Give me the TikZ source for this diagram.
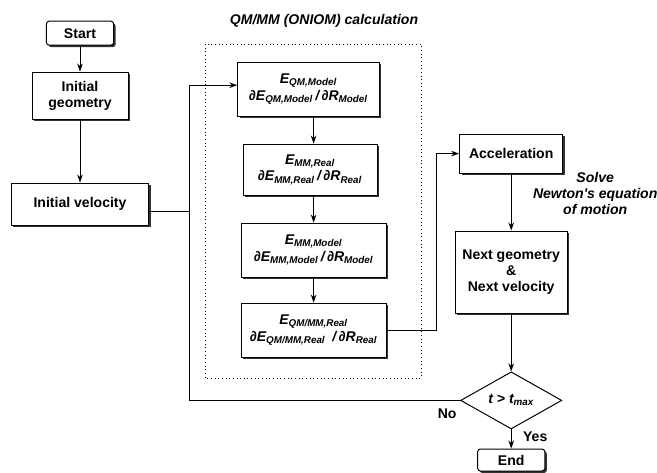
\documentclass[tikz,border=0pt]{standalone}
\usepackage{fontspec}
\setmainfont{Liberation Sans}
\usepackage{tikz}
\usetikzlibrary{arrows.meta,shapes.geometric,shadows}

\begin{document}
\begin{tikzpicture}[line width=0.6pt,>={Stealth[length=2mm,width=1.4mm]},
every node/.style={font=\bfseries\fontsize{10}{11.4}\selectfont},
note/.style={align=center,font=\bfseries\itshape\fontsize{10}{11.4}\selectfont},
box/.style={draw,fill=white,line width=0.7pt,align=center,inner sep=0pt,drop shadow={shadow xshift=0.05cm,shadow yshift=-0.05cm,fill=black!80,opacity=1}},
qm/.style={box,font=\bfseries\itshape\fontsize{10}{12}\selectfont},
term/.style={box,rounded corners=2pt},
test/.style={draw,diamond,line width=0.7pt,inner sep=0pt,minimum width=2.53cm,minimum height=1.23cm,font=\bfseries\itshape\fontsize{10}{11.4}\selectfont}]
\useasboundingbox (0cm,0cm) rectangle (16.425cm,-11.8cm);
\draw[dotted] (5.125cm,-1.1cm) rectangle (10.525cm,-9.45cm);
\node[note] (0) at (8.1cm,-0.53cm) {QM/MM (ONIOM) calculation};
\node[term,minimum width=1.68cm,minimum height=0.6cm] (1) at (2cm,-0.83cm) {Start};
\node[box,minimum width=2.4cm,minimum height=1.18cm] (2) at (2cm,-2.39cm) {Initial\\geometry};
\node[box,minimum width=3.43cm,minimum height=1.05cm] (3) at (2cm,-5.1cm) {Initial velocity};
\node[qm,minimum width=3.53cm,minimum height=1.35cm] (4) at (7.71cm,-2.23cm) {E\textsubscript{QM,Model}\\∂E\textsubscript{QM,Model}\,/\,∂R\textsubscript{Model}};
\node[qm,minimum width=3.35cm,minimum height=1.28cm] (5) at (7.75cm,-4.24cm) {E\textsubscript{MM,Real}\\∂E\textsubscript{MM,Real}\,/\,∂R\textsubscript{Real}};
\node[qm,minimum width=3.63cm,minimum height=1.35cm] (6) at (7.84cm,-6.25cm) {E\textsubscript{MM,Model}\\∂E\textsubscript{MM,Model}\,/\,∂R\textsubscript{Model}};
\node[qm,minimum width=3.63cm,minimum height=1.35cm] (7) at (7.84cm,-8.25cm) {E\textsubscript{QM/MM,Real}\\∂E\textsubscript{QM/MM,Real}\enspace/\,∂R\textsubscript{Real}};
\node[box,minimum width=2.58cm,minimum height=0.98cm] (8) at (12.78cm,-3.84cm) {Acceleration};
\node[box,minimum width=2.8cm,minimum height=2.05cm] (9) at (12.78cm,-6.8cm) {Next geometry\\\&\\Next velocity};
\node[test] (10) at (12.78cm,-10.01cm) {t > t\textsubscript{max}};
\node[term,minimum width=1.68cm,minimum height=0.55cm] (11) at (12.78cm,-11.5cm) {End};
\node[note] (12) at (14.88cm,-4.83cm) {Solve\\Newton\textquotesingle s equation\\of motion};
\node (13) at (11.18cm,-10.35cm) {No};
\node (14) at (13.38cm,-10.93cm) {Yes};
\coordinate (a) at (4.725cm,-2.13cm);
\coordinate (b) at (4.725cm,-5.275cm);
\coordinate (c) at (10.9cm,-3.84cm);
\draw[->] (1) -- (2);
\draw[->] (2) -- (3);
\draw (b -| 3.east) -- (b);
\draw[->] (10.west) -| (a) -- (a -| 4.west);
\draw[->] (4.south -| 6) -- (5.north -| 6);
\draw[->] (5.south -| 6) -- (6.north);
\draw[->] (6) -- (7);
\draw[->] (7.east) -| (c) -- (8.west);
\draw[->] (8) -- (9);
\draw[->] (9) -- (10);
\draw[->] (10) -- (11);
\end{tikzpicture}
\end{document}
